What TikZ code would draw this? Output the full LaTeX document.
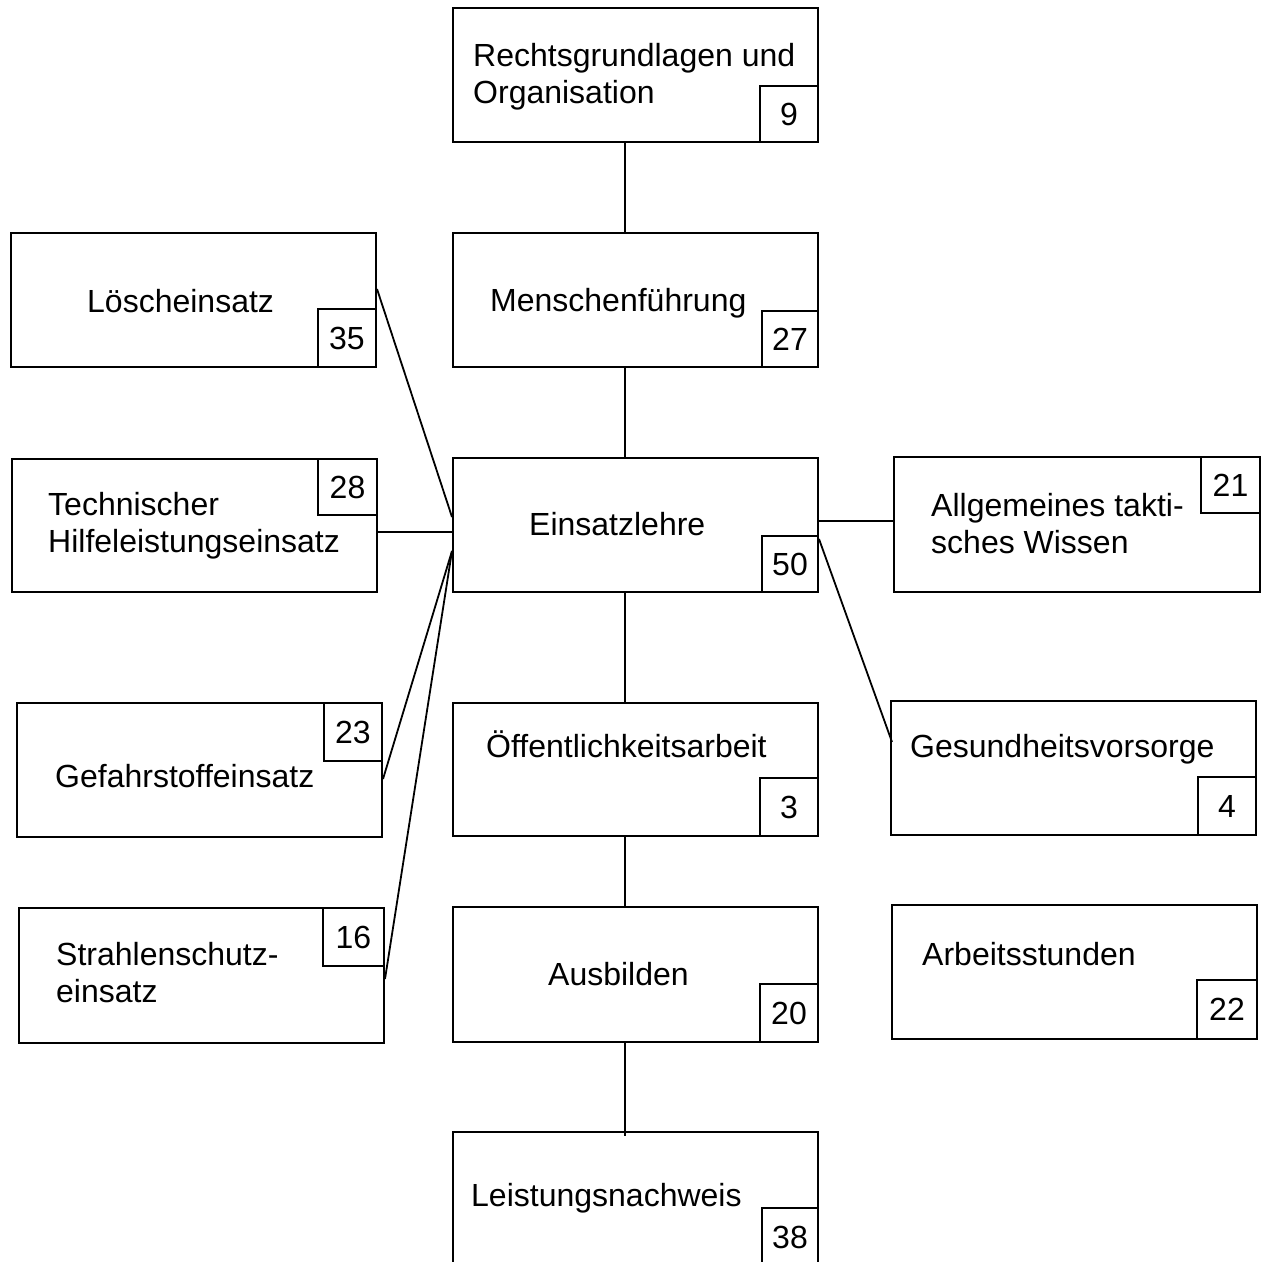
\documentclass[tikz,border=0pt]{standalone}
\usepackage{fontspec}
\setmainfont{Liberation Sans}
\usetikzlibrary{calc}
\tikzset{
  kasten/.style={draw, line width=2pt, inner sep=0pt, fill=white},
  zahlbox/.style={draw, line width=2pt, inner sep=0pt, fill=white, font=\fontsize{32}{37}\selectfont},
  txt/.style={inner sep=0pt, anchor=base west, font=\fontsize{32}{37}\selectfont},
  verb/.style={line width=1.8pt}
}
\newcommand\Kasten[5]{\node[kasten, minimum width={#4-#2}, minimum height={#5-#3}] (#1) at ({(#2+#4)/2},{(#3+#5)/2}) {};}
\newcommand\Zahl[6]{\node[zahlbox, minimum width={#4-#2}, minimum height={#5-#3}] (#1) at ({(#2+#4)/2},{(#3+#5)/2}) {#6};}
\newcommand\Zwei[2]{\vtop{\hbox{#1}\hbox{#2}}}
\begin{document}
\begin{tikzpicture}[x=1pt,y=-1pt]
\useasboundingbox (0,0) rectangle (1263,1261);
\begin{scope}
\clip (0,0) rectangle (1263,1261);
% main column
\Kasten{rechts}{453}{8}{818}{142}
\Kasten{mensch}{453}{233}{818}{367}
\Kasten{einsatz}{453}{458}{818}{592}
\Kasten{oeff}{453}{703}{818}{836}
\Kasten{ausb}{453}{907}{818}{1042}
\Kasten{leist}{453}{1132}{818}{1300}
% left column
\Kasten{loesch}{11}{233}{376}{367}
\Kasten{tech}{12}{459}{377}{592}
\Kasten{gefahr}{17}{703}{382}{837}
\Kasten{strahl}{19}{908}{384}{1043}
% right column
\Kasten{allg}{894}{457}{1260}{592}
\Kasten{gesund}{891}{701}{1256}{835}
\Kasten{arbeit}{892}{905}{1257}{1039}
% number boxes
\Zahl{n9}{760}{86}{818}{142}{9}
\Zahl{n27}{762}{311}{818}{367}{27}
\Zahl{n50}{762}{536}{818}{592}{50}
\Zahl{n3}{760}{778}{818}{836}{3}
\Zahl{n20}{760}{984}{818}{1042}{20}
\Zahl{n38}{762}{1208}{818}{1266}{38}
\Zahl{n35}{318}{309}{376}{367}{35}
\Zahl{n28}{318}{459}{377}{515}{28}
\Zahl{n23}{324}{703}{382}{761}{23}
\Zahl{n16}{323}{908}{384}{966}{16}
\Zahl{n21}{1201}{457}{1260}{513}{21}
\Zahl{n4}{1198}{777}{1256}{835}{4}
\Zahl{n22}{1197}{980}{1257}{1039}{22}
% texts
\node[txt] (t-rechts) at (473,66) {\Zwei{Rechtsgrundlagen und}{Organisation}};
\node[txt] (t-mensch) at (490,311) {Menschenführung};
\node[txt] (t-einsatz) at (529,535) {Einsatzlehre};
\node[txt] (t-oeff) at (486,757) {Öffentlichkeitsarbeit};
\node[txt] (t-ausb) at (548,985) {Ausbilden};
\node[txt] (t-leist) at (471,1206) {Leistungsnachweis};
\node[txt] (t-loesch) at (87,312) {Löscheinsatz};
\node[txt] (t-tech) at (48,515) {\Zwei{Technischer}{Hilfeleistungseinsatz}};
\node[txt] (t-gefahr) at (55,787) {Gefahrstoffeinsatz};
\node[txt] (t-strahl) at (56,965) {\Zwei{Strahlenschutz-}{einsatz}};
\node[txt] (t-allg) at (931,516) {\Zwei{Allgemeines takti-}{sches Wissen}};
\node[txt] (t-gesund) at (910,757) {Gesundheitsvorsorge};
\node[txt] (t-arbeit) at (922,965) {Arbeitsstunden};
% connectors
\draw[verb] ($(rechts.south west)+(173,0)$) -- ($(mensch.north west)+(173,0)$);
\draw[verb] ($(mensch.south west)+(173,0)$) -- ($(einsatz.north west)+(173,0)$);
\draw[verb] ($(einsatz.south west)+(173,0)$) -- ($(oeff.north west)+(173,0)$);
\draw[verb] ($(oeff.south west)+(173,0)$) -- ($(ausb.north west)+(173,0)$);
\draw[verb] ($(ausb.south west)+(173,0)$) -- ($(leist.north west)+(173,5)$);
\draw[verb] ($(loesch.north east)+(0,57)$) -- ($(einsatz.north west)+(0,60)$);
\draw[verb] ($(tech.north east)+(0,74)$) -- ($(einsatz.north west)+(0,75)$);
\draw[verb] ($(einsatz.north west)+(0,94)$) -- ($(gefahr.north east)+(0,77)$);
\draw[verb] ($(einsatz.north west)+(0,94)$) -- ($(strahl.north east)+(0,72)$);
\draw[verb] ($(einsatz.north east)+(0,64)$) -- ($(allg.north west)+(0,65)$);
\draw[verb] ($(einsatz.north east)+(0,82)$) -- ($(gesund.north west)+(2,42)$);
\end{scope}
\end{tikzpicture}
\end{document}
